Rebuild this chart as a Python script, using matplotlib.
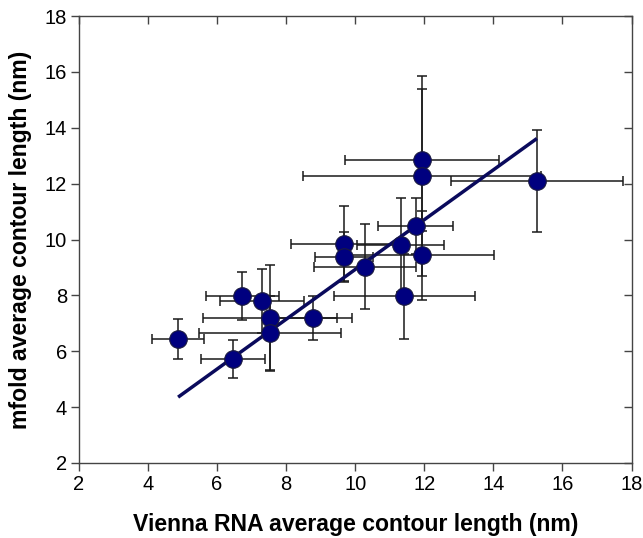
import matplotlib
matplotlib.use("Agg")
import matplotlib.pyplot as plt
import numpy as np

# Data
vienna_x = [4.87, 6.46, 6.73, 7.29, 7.53, 7.53, 8.77, 9.67, 9.67, 10.28,
            11.32, 11.42, 11.75, 11.92, 11.93, 11.92, 15.26]
mfold_y = [6.44, 5.72, 7.98, 7.80, 7.18, 6.66, 7.20, 9.85, 9.38, 9.02,
           9.79, 7.97, 10.47, 12.86, 12.27, 9.43, 12.10]
x_err = [0.76, 0.93, 1.06, 1.22, 1.95, 2.05, 1.15, 1.52, 0.85, 1.47,
         1.26, 2.04, 1.08, 2.23, 3.45, 2.10, 2.48]
y_err = [0.70, 0.69, 0.86, 1.13, 1.90, 1.33, 0.78, 1.35, 0.90, 1.52,
         1.68, 1.52, 1.00, 2.54, 3.58, 1.60, 1.83]
fit_slope = 0.891
fit_intercept = 0.018
ticks = [2, 4, 6, 8, 10, 12, 14, 16, 18]

plt.rcParams['font.family'] = ['Liberation Sans', 'DejaVu Sans']

fig = plt.figure(figsize=(6.43, 5.38), dpi=100)
ax = fig.add_axes([79/643, 75/538, (631.5-79)/643, (463-16)/538])

ax.errorbar(vienna_x, mfold_y, xerr=x_err, yerr=y_err, fmt='none',
            ecolor='#1a1a1a', elinewidth=1.1, capsize=3.5, capthick=1.1, zorder=2)

fx = np.array([min(vienna_x), max(vienna_x)])
ax.plot(fx, fit_slope * fx + fit_intercept, color='#0a0a5c', lw=2.5, zorder=3,
        solid_capstyle='butt')

ax.scatter(vienna_x, mfold_y, s=160, color='#00007f', edgecolors='#1a1a40',
           linewidths=0.8, zorder=4)

ax.set_xlim(2, 18)
ax.set_ylim(2, 18)
ax.set_xticks(ticks)
ax.set_yticks(ticks)
ax.tick_params(axis='both', which='major', direction='out', length=5.5, width=1,
               color='#444444', labelsize=14.5, pad=3)
for s in ax.spines.values():
    s.set_color('#444444')
    s.set_linewidth(1.0)

# inward ticks on top and right
axt = ax.secondary_xaxis('top')
axt.set_xticks(ticks)
axt.tick_params(direction='in', length=5.5, width=1, color='#444444', labeltop=False)
axt.spines['top'].set_visible(False)
axr = ax.secondary_yaxis('right')
axr.set_yticks(ticks)
axr.tick_params(direction='in', length=5.5, width=1, color='#444444', labelright=False)
axr.spines['right'].set_visible(False)

ax.set_xlabel('Vienna RNA average contour length (nm)', fontsize=16.6,
              fontweight='bold', labelpad=14)
ax.set_ylabel('mfold average contour length (nm)', fontsize=16.6,
              fontweight='bold', labelpad=9)

fig.savefig('out.png', dpi=100)
